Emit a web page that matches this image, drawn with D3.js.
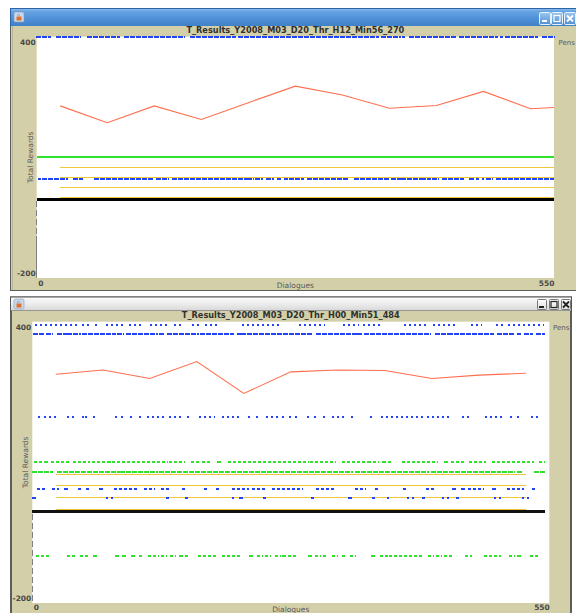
<!DOCTYPE html>
<html>
<head>
<meta charset="utf-8">
<script src="https://cdn.jsdelivr.net/npm/d3@7"></script>
<style>
  html, body { margin: 0; padding: 0; background: #fff; overflow: hidden; }
  svg { display: block; }
</style>
</head>
<body>
<svg id="c" width="576" height="613"></svg>
<script>
// ---------------- data ----------------
// Axis extents
const dialogueRange = [0, 550];
const rewardRange = [-200, 400];
const yTickValues = [400, -200];
const xTickValues = [0, 550];

// Window 1: T_Results_Y2008_M03_D20_Thr_H12_Min56_270
const topTitle = "T_Results_Y2008_M03_D20_Thr_H12_Min56_270";
const topRewardX = [25, 75, 125, 175, 225, 275, 325, 375, 425, 475, 525, 550];
const topRewards = [228, 186, 228, 194, 236, 277, 255, 222, 229, 264, 221, 224];
const topGreenLevel = 100;
const topYellowLevels = [75, 50, 25, 0];
const topYellowSpan = [25, 550];
const topBlackLevel = -5;
const topBlackSpan = [0, 550];
const topBlueHighLevel = 400;
const topBlueHighRuns = [[0,14],[22,46],[55,87],[94,157],[164,211],[215,363],[367,386],[389,390],[397,445],[450,489],[494,495],[499,532],[538,550]];
const topBlueMidLevel = 46;
const topBlueMidRuns = [[2,3],[7,32],[40,48],[62,124],[128,140],[145,222],[225,230],[233,240],[245,251],[257,259],[264,266],[269,283],[288,330],[338,374],[378,386],[388,408],[410,418],[421,427],[432,453],[461,464],[468,469],[474,475],[479,484],[489,549]];
const topTraceDashed = [-9, -95];
const topTraceSolid = [-95, -200];

// Window 2: T_Results_Y2008_M03_D20_Thr_H00_Min51_484
const bottomTitle = "T_Results_Y2008_M03_D20_Thr_H00_Min51_484";
const bottomRewardX = [25, 75, 125, 175, 225, 275, 325, 375, 425, 475, 525];
const bottomRewards = [288, 297, 279, 315, 247, 293, 297, 296, 279, 286, 290];
const bottomYellowLevels = [75, 50, 25, 0];
const bottomYellowSpan = [25, 525];
const bottomBlackLevel = -5;
const bottomBlackSpan = [0, 545];
const bottomBlue393Runs = [[4,46],[54,60],[68,71],[79,95],[104,116],[126,142],[152,160],[171,179],[185,197],[224,265],[285,310],[332,347],[353,371],[396,418],[427,451],[468,477],[494,502],[507,543]];
const bottomBlue374Runs = [[2,12],[16,21],[27,37],[38,51],[54,88],[91,97],[101,133],[136,139],[144,176],[179,213],[219,221],[223,296],[303,344],[347,351],[354,365],[367,423],[429,441],[443,490],[495,512],[517,519],[524,532],[537,544]];
const bottomBlue197Runs = [[7,7],[14,25],[38,43],[54,54],[57,57],[66,66],[89,89],[95,95],[105,105],[115,115],[123,139],[147,152],[157,157],[166,166],[178,193],[203,221],[231,231],[239,239],[250,260],[267,267],[274,274],[281,281],[293,293],[301,301],[310,314],[320,330],[340,340],[360,360],[372,378],[383,416],[421,445],[458,466],[483,501],[509,512],[517,517],[532,537]];
const bottomGreen100Runs = [[3,12],[15,16],[21,27],[32,38],[44,60],[65,76],[81,83],[86,143],[147,161],[170,177],[182,189],[198,200],[209,293],[296,322],[331,354],[357,359],[363,368],[373,375],[379,381],[394,431],[439,441],[447,459],[466,482],[490,533],[540,544]];
const bottomGreen80Runs = [[1,21],[27,92],[94,133],[136,340],[344,421],[425,498],[501,512],[517,520],[535,544]];
const bottomBlue43Runs = [[6,12],[22,27],[35,37],[50,53],[58,61],[72,74],[88,112],[120,129],[138,145],[160,161],[184,187],[197,200],[213,229],[235,246],[256,287],[303,322],[344,354],[366,367],[395,396],[420,426],[448,450],[457,459],[465,479],[490,492],[506,522],[533,534]];
const bottomBlue24Runs = [[1,3],[79,85],[143,144],[164,165],[213,214],[221,223],[246,248],[298,299],[337,339],[362,363],[378,381],[400,405],[416,417],[437,443],[452,453],[492,498],[522,527]];
const bottomGreenNeg100Runs = [[5,17],[38,44],[52,58],[66,68],[89,91],[97,99],[106,108],[115,116],[124,134],[138,142],[148,152],[157,159],[163,167],[177,195],[203,222],[232,234],[240,244],[249,253],[259,263],[267,269],[273,281],[294,296],[302,306],[310,314],[320,324],[330,332],[339,343],[361,363],[371,377],[381,415],[422,426],[430,435],[439,445],[461,467],[482,498],[508,512],[517,519],[531,537]];
const bottomTraceDashed = [-11, -200];

// ---------------- styles ----------------
const TAN = "#d3d0a9";
const BLUE = "#2244f4";
const GREEN = "#2ee22e";
const RED = "#ff6e4e";
const YELLOW = "#f0c63c";
const DASH = { dense: "5,1", dash: "3,2", dots: "2,3" };
const FONT = "'DejaVu Sans', Verdana, sans-serif";

const svg = d3.select("#c");
svg.append("rect").attr("width", 576).attr("height", 613).attr("fill", "#fff");

const defs = svg.append("defs");
function gradient(id, stops) {
  const lg = defs.append("linearGradient").attr("id", id)
    .attr("x1", 0).attr("y1", 0).attr("x2", 0).attr("y2", 1);
  stops.forEach(([o, c]) => lg.append("stop").attr("offset", o).attr("stop-color", c));
}
gradient("activeBar", [[0, "#8fc0ee"], [0.15, "#66a4e2"], [0.6, "#4d8fd6"], [1, "#3f7fc6"]]);
gradient("inactiveBar", [[0, "#fbfbfb"], [0.5, "#ececec"], [1, "#d6d6d6"]]);
gradient("activeBtn", [[0, "#9cc8f0"], [1, "#4f8fd4"]]);
gradient("inactiveBtn", [[0, "#ffffff"], [1, "#dcdcdc"]]);

// pixel snapping for crisp horizontal strokes
const snap = (v, w) => (Math.round(w) % 2 === 1) ? Math.floor(v) + 0.5 : Math.round(v);

// ---------------- window frames ----------------
function frameIcon(g, x, y) {
  g.append("rect").attr("x", x).attr("y", y).attr("width", 10).attr("height", 10)
    .attr("rx", 1.5).attr("fill", "#c9d8ea").attr("stroke", "#8a9ab0").attr("stroke-width", 0.6);
  g.append("rect").attr("x", x + 2.5).attr("y", y + 4.5).attr("width", 5).attr("height", 4)
    .attr("fill", "#e07030");
  g.append("path").attr("d", `M${x + 3},${y + 3.5} q1.5,-2 3,0`).attr("fill", "none")
    .attr("stroke", "#6a88c0").attr("stroke-width", 0.8);
}

function frameButtons(g, xs, y, w, h, active) {
  const ink = active ? "#fff" : "#222";
  xs.forEach((bx, i) => {
    g.append("rect").attr("x", bx + 0.5).attr("y", y + 0.5).attr("width", w).attr("height", h)
      .attr("rx", 1).attr("fill", active ? "url(#activeBtn)" : "url(#inactiveBtn)")
      .attr("stroke", active ? "#e8f2fc" : "#777").attr("stroke-width", 1);
    const cx = bx + w / 2 + 0.5, cy = y + h / 2 + 0.5;
    if (i === 0) {
      g.append("rect").attr("x", cx - 3).attr("y", cy + 1.5).attr("width", 5).attr("height", 2).attr("fill", ink);
    } else if (i === 1) {
      g.append("rect").attr("x", cx - 3).attr("y", cy - 3).attr("width", 6).attr("height", 6)
        .attr("fill", "none").attr("stroke", ink).attr("stroke-width", 1.2);
    } else {
      g.append("path").attr("d", `M${cx - 3},${cy - 3}L${cx + 3},${cy + 3}M${cx + 3},${cy - 3}L${cx - 3},${cy + 3}`)
        .attr("stroke", ink).attr("stroke-width", 1.8);
    }
  });
}

// top (active) frame
const f1 = svg.append("g");
f1.append("rect").attr("x", 10).attr("y", 8).attr("width", 580).attr("height", 283).attr("fill", "#5c5c5c");
f1.append("rect").attr("x", 10.5).attr("y", 8.5).attr("width", 580).attr("height", 18).attr("fill", "url(#activeBar)")
  .attr("stroke", "#2f64a8").attr("stroke-width", 1);
f1.append("rect").attr("x", 11).attr("y", 26).attr("width", 580).attr("height", 264).attr("fill", TAN);
f1.append("line").attr("x1", 12.5).attr("x2", 12.5).attr("y1", 26).attr("y2", 290).attr("stroke", "#b8b592");
frameIcon(f1, 14, 12);
frameButtons(f1, [539, 551, 564], 12, 11, 12, true);

// bottom (inactive) frame
const f2 = svg.append("g");
f2.append("rect").attr("x", 10).attr("y", 296.5).attr("width", 562).attr("height", 320).attr("fill", "#5c5c5c");
f2.append("rect").attr("x", 10.5).attr("y", 297).attr("width", 561).attr("height", 14).attr("fill", "url(#inactiveBar)")
  .attr("stroke", "#555").attr("stroke-width", 1);
f2.append("rect").attr("x", 12).attr("y", 311).attr("width", 558).attr("height", 310).attr("fill", TAN);
frameIcon(f2, 14, 299);
frameButtons(f2, [537, 549, 561], 299, 9, 10, false);

// ---------------- charts ----------------
function drawChart(cfg) {
  const x = d3.scaleLinear().domain(dialogueRange).range([cfg.left, cfg.right]);
  const y = d3.scaleLinear().domain(rewardRange).range([cfg.bottom, cfg.top]);
  const g = svg.append("g");

  g.append("rect").attr("x", cfg.left).attr("y", cfg.top)
    .attr("width", cfg.right - cfg.left).attr("height", cfg.bottom - cfg.top).attr("fill", "#fff");

  // chart title
  g.append("text").attr("x", (cfg.left + cfg.right) / 2).attr("y", cfg.top - 4)
    .attr("text-anchor", "middle").attr("font-family", FONT).attr("font-size", 8.2)
    .attr("font-weight", "bold").attr("fill", "#303030").text(cfg.title);

  // y axis end labels
  const ya = g.append("g").attr("transform", `translate(${cfg.left},0)`)
    .call(d3.axisLeft(y).tickValues(yTickValues).tickSize(0).tickPadding(1).tickFormat(d => String(d)));
  ya.select(".domain").remove();
  ya.selectAll("text").attr("font-family", FONT).attr("font-size", 7.5).attr("font-weight", "bold")
    .attr("fill", "#484848").attr("dy", d => d === 400 ? "0.98em" : "-0.3em");

  // x axis end labels
  const xa = g.append("g").attr("transform", `translate(0,${cfg.bottom})`)
    .call(d3.axisBottom(x).tickValues(xTickValues).tickSize(0).tickPadding(cfg.xPad).tickFormat(d => String(d)));
  xa.select(".domain").remove();
  xa.selectAll("text").attr("font-family", FONT).attr("font-size", 7.5).attr("font-weight", "bold")
    .attr("fill", "#484848").attr("text-anchor", d => d === 0 ? "start" : "end")
    .attr("dx", d => d === 0 ? 1 : 0);

  // axis titles
  g.append("text").attr("x", (cfg.left + cfg.right) / 2).attr("y", cfg.bottom + cfg.xTitleGap)
    .attr("text-anchor", "middle").attr("font-family", FONT).attr("font-size", 7.5)
    .attr("fill", "#5a5a5a").text("Dialogues");
  g.append("text")
    .attr("transform", `translate(${cfg.left - 4},${(cfg.top + cfg.bottom) / 2}) rotate(-90)`)
    .attr("text-anchor", "middle").attr("font-family", FONT).attr("font-size", 7.5)
    .attr("fill", "#5a5a5a").text("Total Rewards");
  g.append("text").attr("x", cfg.pensX).attr("y", cfg.top + 8)
    .attr("font-family", FONT).attr("font-size", 7).attr("fill", "#5a5a5a").text("Pens");

  const marks = g.append("g").attr("shape-rendering", "crispEdges");

  // vertical trace at dialogue 0 below the zero band
  cfg.traces.forEach(t => {
    marks.append("line").attr("x1", Math.floor(x(0)) + 0.5).attr("x2", Math.floor(x(0)) + 0.5)
      .attr("y1", y(t.range[0])).attr("y2", y(t.range[1]))
      .attr("stroke", "#808080").attr("stroke-width", 1)
      .attr("stroke-dasharray", t.dashed ? "6,3" : null);
  });

  // flat pen levels
  cfg.levels.forEach(l => {
    const yy = snap(y(l.value), l.width);
    marks.append("line").attr("x1", x(l.span[0])).attr("x2", x(l.span[1]))
      .attr("y1", yy).attr("y2", yy)
      .attr("stroke", l.color).attr("stroke-width", l.width);
  });

  // dotted pens: runs of dialogues where the pen sits at a level
  cfg.runs.forEach(r => {
    const yy = snap(y(r.value), 2);
    marks.append("g").selectAll("line").data(r.runs).join("line")
      .attr("x1", d => Math.round(x(d[0]) - 1)).attr("x2", d => Math.round(x(d[1]) + 1))
      .attr("y1", yy).attr("y2", yy)
      .attr("stroke", r.color).attr("stroke-width", 2)
      .attr("stroke-dasharray", d => (d[1] - d[0] < 3) ? null : DASH[r.pattern]);
  });

  // total reward curve
  const pts = cfg.rewardX.map((d, i) => [d, cfg.rewards[i]]);
  g.append("path").datum(pts)
    .attr("d", d3.line().x(d => x(d[0])).y(d => y(d[1])))
    .attr("fill", "none").attr("stroke", RED).attr("stroke-width", 1.1);
}

drawChart({
  left: 36.7, right: 554, top: 36.7, bottom: 278,
  pensX: 558.5, xPad: 3, xTitleGap: 10,
  title: topTitle,
  rewardX: topRewardX, rewards: topRewards,
  traces: [{ range: topTraceDashed, dashed: true }, { range: topTraceSolid, dashed: false }],
  levels: [
    { value: topGreenLevel, span: dialogueRange, color: GREEN, width: 2 },
    ...topYellowLevels.map(v => ({ value: v, span: topYellowSpan, color: YELLOW, width: 1 })),
    { value: topBlackLevel, span: topBlackSpan, color: "#000", width: 3 }
  ],
  runs: [
    { value: topBlueHighLevel, runs: topBlueHighRuns, color: BLUE, pattern: "dense" },
    { value: topBlueMidLevel, runs: topBlueMidRuns, color: BLUE, pattern: "dense" }
  ]
});

drawChart({
  left: 32.3, right: 549.3, top: 321.7, bottom: 603,
  pensX: 553, xPad: 2, xTitleGap: 8.5,
  title: bottomTitle,
  rewardX: bottomRewardX, rewards: bottomRewards,
  traces: [{ range: bottomTraceDashed, dashed: true }],
  levels: [
    ...bottomYellowLevels.map(v => ({ value: v, span: bottomYellowSpan, color: YELLOW, width: 1 })),
    { value: bottomBlackLevel, span: bottomBlackSpan, color: "#111", width: 3 }
  ],
  runs: [
    { value: 393, runs: bottomBlue393Runs, color: BLUE, pattern: "dots" },
    { value: 374, runs: bottomBlue374Runs, color: BLUE, pattern: "dense" },
    { value: 197, runs: bottomBlue197Runs, color: BLUE, pattern: "dots" },
    { value: 100, runs: bottomGreen100Runs, color: GREEN, pattern: "dash" },
    { value: 80, runs: bottomGreen80Runs, color: GREEN, pattern: "dense" },
    { value: 43, runs: bottomBlue43Runs, color: BLUE, pattern: "dash" },
    { value: 24, runs: bottomBlue24Runs, color: BLUE, pattern: "dots" },
    { value: -100, runs: bottomGreenNeg100Runs, color: GREEN, pattern: "dash" }
  ]
});
</script>
</body>
</html>
